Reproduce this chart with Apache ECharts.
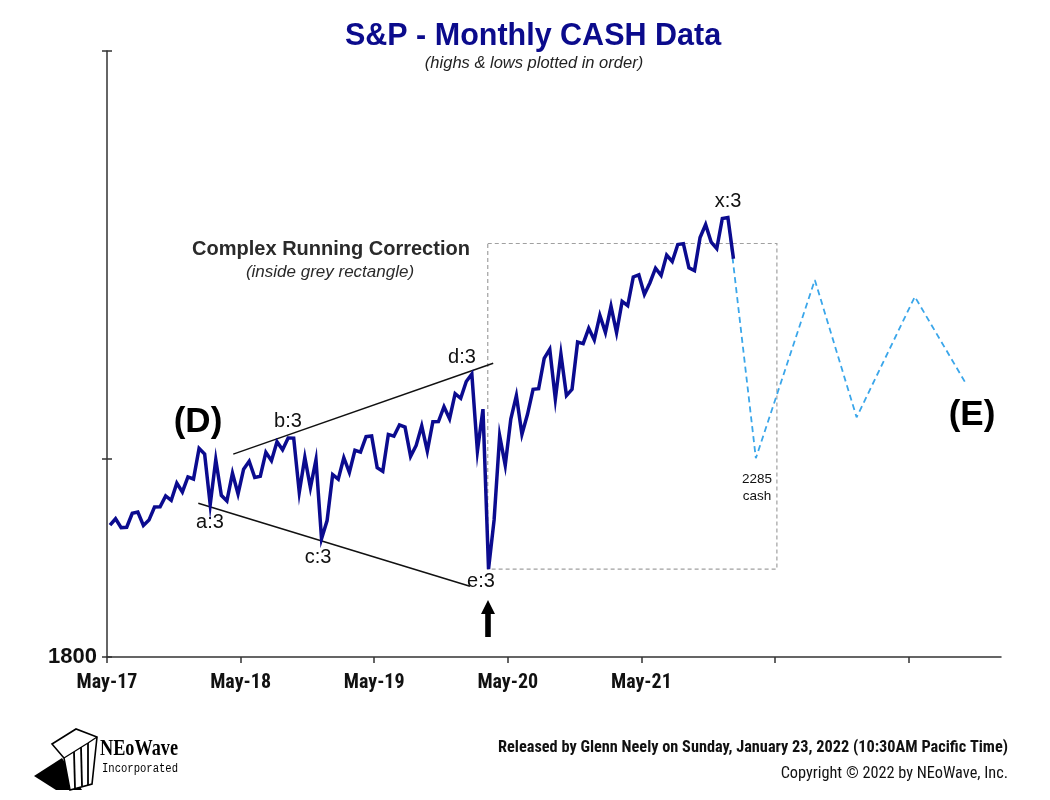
<!DOCTYPE html>
<html>
<head>
<meta charset="utf-8">
<script src="https://cdn.jsdelivr.net/npm/echarts@6/dist/echarts.min.js"></script>
<style>
html,body{margin:0;padding:0;background:#fff;}
#chart{width:1050px;height:800px;}
</style>
</head>
<body>
<div id="chart"></div>
<script>
// ---------------- DATA ----------------
// Months from May-2017 (index 0) to Jan-2022
const months = ['2017-05','2017-06','2017-07','2017-08','2017-09','2017-10','2017-11','2017-12',
  '2018-01','2018-02','2018-03','2018-04','2018-05','2018-06','2018-07','2018-08','2018-09','2018-10','2018-11','2018-12',
  '2019-01','2019-02','2019-03','2019-04','2019-05','2019-06','2019-07','2019-08','2019-09','2019-10','2019-11','2019-12',
  '2020-01','2020-02','2020-03','2020-04','2020-05','2020-06','2020-07','2020-08','2020-09','2020-10','2020-11','2020-12',
  '2021-01','2021-02','2021-03','2021-04','2021-05','2021-06','2021-07','2021-08','2021-09','2021-10','2021-11','2021-12',
  '2022-01'];
// First extreme of the month (high or low, whichever came first)
const firstExtreme = [null,2453.82,2407.70,2490.87,2446.55,2520.40,2557.45,2605.52,
  2682.36,2835.96,2801.90,2553.80,2594.62,2791.47,2698.95,2795.14,2864.12,2939.86,2815.15,2800.18,
  2443.96,2681.83,2722.27,2848.63,2954.13,2728.81,2952.22,3013.59,2891.85,2855.94,3050.72,3070.33,
  3214.64,3393.52,3136.72,2447.49,2766.64,3233.13,3101.17,3284.53,3588.11,3549.85,3279.74,3633.40,
  3662.71,3725.62,3723.34,3955.31,4238.04,4164.40,4233.13,4367.73,4545.85,4278.94,4743.83,4495.12,
  4818.62];
// Second extreme of the month
const secondExtreme = [2418.71,2405.70,2484.04,2417.35,2519.44,2582.98,2657.74,2694.97,
  2872.87,2532.69,2585.89,2717.49,2742.24,2691.99,2848.03,2916.50,2940.91,2603.54,2631.09,2346.58,
  2708.95,2813.49,2860.31,2949.52,2750.52,2964.15,3027.98,2822.12,3021.99,3050.10,3154.26,3247.93,
  3337.77,2855.84,2191.86,2954.86,3068.67,2965.66,3279.99,3514.77,3209.45,3233.94,3645.99,3760.20,
  3870.90,3950.43,3994.41,4218.78,4056.88,4302.43,4429.97,4537.36,4305.91,4608.08,4560.00,4808.93,
  4395.34];
// Projected path (months since May-17, value)
const projMonths = [55.77, 58.28, 63.58, 67.33, 72.56, 77.05];
const projValues = [4818.62, 2810, 4190, 3080, 4036, 3336];
// Trend lines (months since May-17, value)
const upperLineMonths = [11.34, 34.69];
const upperLineValues = [2836, 3477];
const lowerLineMonths = [8.2, 32.6];
const lowerLineValues = [2540, 2109];
// Grey rectangle (months, values)
const rectMonths = [34.2, 60.17];
const rectValues = [4547, 2191.86];
// Axis ticks
const xTickMonths = [0, 12, 24, 36, 48, 60, 72];
const xTickLabels = ['May-17', 'May-18', 'May-19', 'May-20', 'May-21'];
const yTickValues = [1800, 2810, 7000];
const yLabelValues = [1800];

// ---------------- BUILD ----------------
const pts = [];
months.forEach((m, i) => {
  if (firstExtreme[i] != null) pts.push([i - 0.23, firstExtreme[i]]);
  if (secondExtreme[i] != null) pts.push([i + 0.27, secondExtreme[i]]);
});
const proj = projMonths.map((m, i) => [m, projValues[i]]);
const upper = upperLineMonths.map((m, i) => [m, upperLineValues[i]]);
const lower = lowerLineMonths.map((m, i) => [m, lowerLineValues[i]]);

const SANS = "'Liberation Sans', Arial, Helvetica, sans-serif";
const NARROW = "'Liberation Sans Narrow', 'Arial Narrow', 'Roboto Condensed', 'DejaVu Sans Condensed', sans-serif";
const axisColor = '#333';

function txt(x, y, text, font, fill, align, scaleX) {
  const el = {type: 'text', x: x, y: y, silent: true,
    style: {text: text, font: font, fill: fill || '#111', align: align || 'center', verticalAlign: 'middle'}};
  if (scaleX) { el.scaleX = scaleX; }
  return el;
}

const chart = echarts.init(document.getElementById('chart'), null, {renderer: 'canvas'});
const option = {
  animation: false,
  backgroundColor: '#fff',
  grid: {left: 107, right: 49, top: 51, bottom: 143, containLabel: false},
  xAxis: {
    type: 'value', min: 0, max: 80.3,
    axisLine: {show: true, lineStyle: {color: axisColor, width: 1.5}},
    axisTick: {show: true, customValues: xTickMonths, length: 6, lineStyle: {color: axisColor, width: 1.5}},
    axisLabel: {show: true, customValues: [0, 12, 24, 36, 48],
      formatter: v => xTickLabels[Math.round(v / 12)] || '',
      margin: 16, color: '#111', fontWeight: 'bold', fontSize: 20, fontFamily: NARROW},
    splitLine: {show: false}
  },
  yAxis: [{
    type: 'log', logBase: 10, min: 1800, max: 7000,
    axisLine: {show: true, lineStyle: {color: axisColor, width: 1.5}},
    axisTick: {show: true, customValues: yTickValues, length: 5, lineStyle: {color: axisColor, width: 1.5}},
    axisLabel: {show: true, customValues: yLabelValues, formatter: v => String(Math.round(v)),
      margin: 10, color: '#111', fontWeight: 'bold', fontSize: 22, fontFamily: SANS},
    splitLine: {show: false}
  }, {
    type: 'log', logBase: 10, min: 1800, max: 7000, position: 'left',
    axisLine: {show: false},
    axisTick: {show: true, inside: true, customValues: yTickValues, length: 5, lineStyle: {color: axisColor, width: 1.5}},
    axisLabel: {show: false},
    splitLine: {show: false}
  }],
  series: [
    {
      type: 'line', data: upper, showSymbol: false, silent: true, z: 2,
      lineStyle: {color: '#111', width: 1.5}
    },
    {
      type: 'line', data: lower, showSymbol: false, silent: true, z: 2,
      lineStyle: {color: '#111', width: 1.5}
    },
    {
      type: 'line', data: proj, showSymbol: false, silent: true, z: 2,
      lineStyle: {color: '#3aa6ea', width: 1.8, type: [6, 4]}
    },
    {
      type: 'line', data: pts, showSymbol: false, silent: true, z: 4,
      lineStyle: {color: '#0b0b8f', width: 3.5, join: 'miter'},
      markArea: {
        silent: true,
        itemStyle: {color: 'rgba(0,0,0,0)', borderColor: '#a0a0a0', borderWidth: 1.2, borderType: [4, 3]},
        data: [[{coord: [rectMonths[0], rectValues[0]]}, {coord: [rectMonths[1], rectValues[1]]}]]
      }
    }
  ],
  graphic: [
    txt(533, 37, 'S&P - Monthly CASH Data', "bold 30.5px " + SANS, '#0b0b8c'),
    txt(534, 63, '(highs & lows plotted in order)', "italic 16.5px " + SANS, '#222'),
    txt(331, 249, 'Complex Running Correction', "bold 20px " + SANS, '#2a2a2a'),
    txt(330, 272, '(inside grey rectangle)', "italic 17px " + SANS, '#2a2a2a'),
    txt(198, 422, '(D)', "bold 35px " + SANS, '#000'),
    txt(972, 415, '(E)', "bold 35px " + SANS, '#000'),
    txt(288, 421, 'b:3', "20px " + SANS, '#111'),
    txt(210, 522, 'a:3', "20px " + SANS, '#111'),
    txt(318, 557, 'c:3', "20px " + SANS, '#111'),
    txt(462, 357, 'd:3', "20px " + SANS, '#111'),
    txt(481, 581, 'e:3', "20px " + SANS, '#111'),
    txt(728, 201, 'x:3', "20px " + SANS, '#111'),
    txt(757, 479, '2285', "13.5px " + SANS, '#111'),
    txt(757, 496, 'cash', "13.5px " + SANS, '#111'),
    {type: 'polygon', silent: true,
      shape: {points: [[488, 600], [495, 614], [490.8, 614], [490.8, 637], [485.2, 637], [485.2, 614], [481, 614]]},
      style: {fill: '#000'}},
    txt(1008, 748, 'Released by Glenn Neely on Sunday, January 23, 2022 (10:30AM Pacific Time)', "bold 16.3px " + NARROW, '#111', 'right'),
    txt(1008, 774, 'Copyright \u00A9 2022 by NEoWave, Inc.', "16.3px " + NARROW, '#111', 'right'),
    // NEoWave logo
    {type: 'polygon', silent: true,
      shape: {points: [[34, 776], [62, 758], [82, 790], [56, 790]]}, style: {fill: '#000'}},
    {type: 'polygon', silent: true,
      shape: {points: [[52, 744], [76, 729], [97, 737], [92, 784], [70, 790], [64, 758]]},
      style: {fill: '#fff', stroke: '#000', lineWidth: 1.6}},
    {type: 'polyline', silent: true,
      shape: {points: [[64, 758], [88, 743], [97, 737]]}, style: {stroke: '#000', lineWidth: 1.3, fill: null}},
    {type: 'polyline', silent: true,
      shape: {points: [[74, 752], [75, 788]]}, style: {stroke: '#000', lineWidth: 1.8, fill: null}},
    {type: 'polyline', silent: true,
      shape: {points: [[81, 747], [82, 786]]}, style: {stroke: '#000', lineWidth: 1.8, fill: null}},
    {type: 'polyline', silent: true,
      shape: {points: [[88, 743], [88, 785]]}, style: {stroke: '#000', lineWidth: 1.8, fill: null}},
    txt(100, 749, 'NEoWave', "bold 24px 'Liberation Serif', 'DejaVu Serif', serif", '#000', 'left', 0.76),
    txt(102, 769, 'Incorporated', "12px 'Liberation Mono', 'DejaVu Sans Mono', monospace", '#000', 'left', 0.88)
  ]
};
chart.setOption(option);
</script>
</body>
</html>
